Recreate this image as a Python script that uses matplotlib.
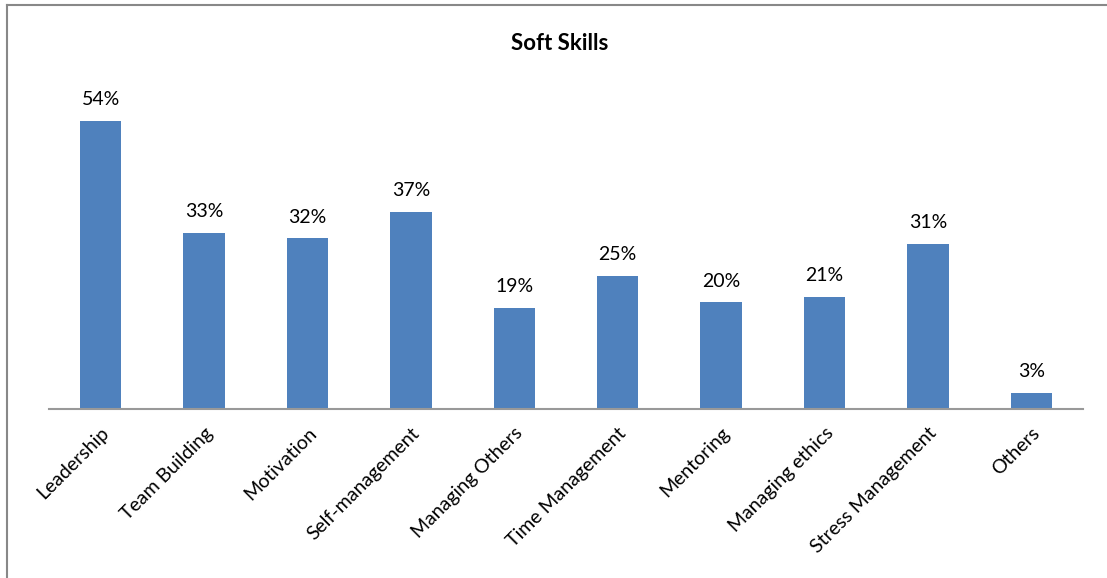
import matplotlib.pyplot as plt
from matplotlib.lines import Line2D

skills = ['Leadership', 'Team Building', 'Motivation', 'Self-management',
          'Managing Others', 'Time Management', 'Mentoring', 'Managing ethics',
          'Stress Management', 'Others']
percent = [54, 33, 32, 37, 19, 25, 20, 21, 31, 3]

plt.rcParams['font.family'] = ['Lato', 'DejaVu Sans']

W, H = 1107, 578
fig = plt.figure(figsize=(W / 100, H / 100), dpi=100)
ax = fig.add_axes([49 / W, (H - 409) / H, (1083 - 49) / W, (409 - 89) / H])

x = range(len(skills))
bars = ax.bar(x, percent, width=0.4, color='#4f81bd')
for b, v in zip(bars, percent):
    ax.text(b.get_x() + b.get_width() / 2, v + 2.4, f'{v}%',
            ha='center', va='bottom', fontsize=14)

ax.set_xlim(-0.5, len(skills) - 0.5)
ax.set_ylim(0, 60)
ax.set_yticks([])
ax.set_xticks(list(x))
ax.set_xticklabels(skills, rotation=45, ha='right', rotation_mode='anchor', fontsize=14)
ax.tick_params(axis='x', length=0, pad=11)
for side in ['top', 'right', 'left']:
    ax.spines[side].set_visible(False)
ax.spines['bottom'].set_color('#999999')
ax.spines['bottom'].set_linewidth(1.5)

fig.text(560 / W, 1 - 43 / H, 'Soft Skills', ha='center', va='center',
         fontsize=16, fontweight='bold')

# chart frame: top and left edge
fig.add_artist(Line2D([7 / W, 1], [1 - 5 / H, 1 - 5 / H], color='#888888', lw=1.5))
fig.add_artist(Line2D([7 / W, 7 / W], [0, 1 - 5 / H], color='#888888', lw=1.5))

fig.savefig('out.png', dpi=100)
